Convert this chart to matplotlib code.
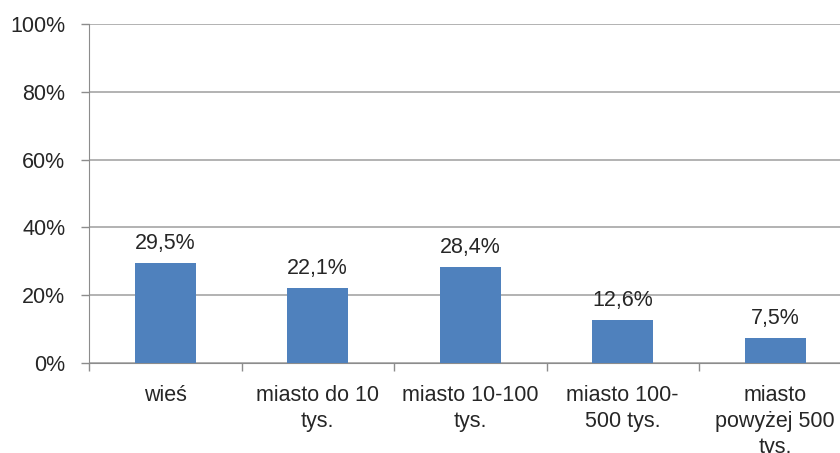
import matplotlib.pyplot as plt
import numpy as np

categories = ['wieś', 'miasto do 10\ntys.', 'miasto 10-100\ntys.',
              'miasto 100-\n500 tys.', 'miasto\npowyżej 500\ntys.']
values = [29.5, 22.1, 28.4, 12.6, 7.5]
value_labels = ['29,5%', '22,1%', '28,4%', '12,6%', '7,5%']
y_ticks = [0, 20, 40, 60, 80, 100]

plt.rcParams['font.family'] = ['Liberation Sans', 'DejaVu Sans']
txt_color = '#262626'

fig = plt.figure(figsize=(8.4, 4.53), dpi=100)
# plot area runs a little past the right edge of the image
ax = fig.add_axes([89 / 840, 1 - 363 / 453, 762.5 / 840, 339 / 453])

x = np.arange(len(categories))
bars = ax.bar(x, values, width=0.4, color='#4F81BD', zorder=3)

for xi, v, lab in zip(x, values, value_labels):
    ax.annotate(lab, (xi, v), xytext=(0, 6.5), textcoords='offset points',
                ha='center', va='bottom', fontsize=15.5, color=txt_color)

ax.set_xlim(-0.5, len(categories) - 0.5)
ax.set_ylim(0, 100)
ax.set_yticks(y_ticks)
ax.set_yticklabels([f'{t}%' for t in y_ticks], fontsize=15.5, color=txt_color)
ax.yaxis.grid(True, color='#A6A6A6', linewidth=1.2, zorder=0)

ax.set_xticks(x)
ax.set_xticklabels(categories, fontsize=15.5, color=txt_color, linespacing=1.3)
ax.set_xticks(np.arange(len(categories) + 1) - 0.5, minor=True)
ax.tick_params(axis='x', which='major', length=0, pad=16)
ax.tick_params(axis='x', which='minor', length=6, color='#8C8C8C', width=1)
ax.tick_params(axis='y', length=6, color='#8C8C8C', width=1, pad=11)

for side in ['top', 'right']:
    ax.spines[side].set_visible(False)
ax.spines['left'].set_color('#8C8C8C')
ax.spines['bottom'].set_color('#8C8C8C')

fig.savefig('out.png', dpi=100)
